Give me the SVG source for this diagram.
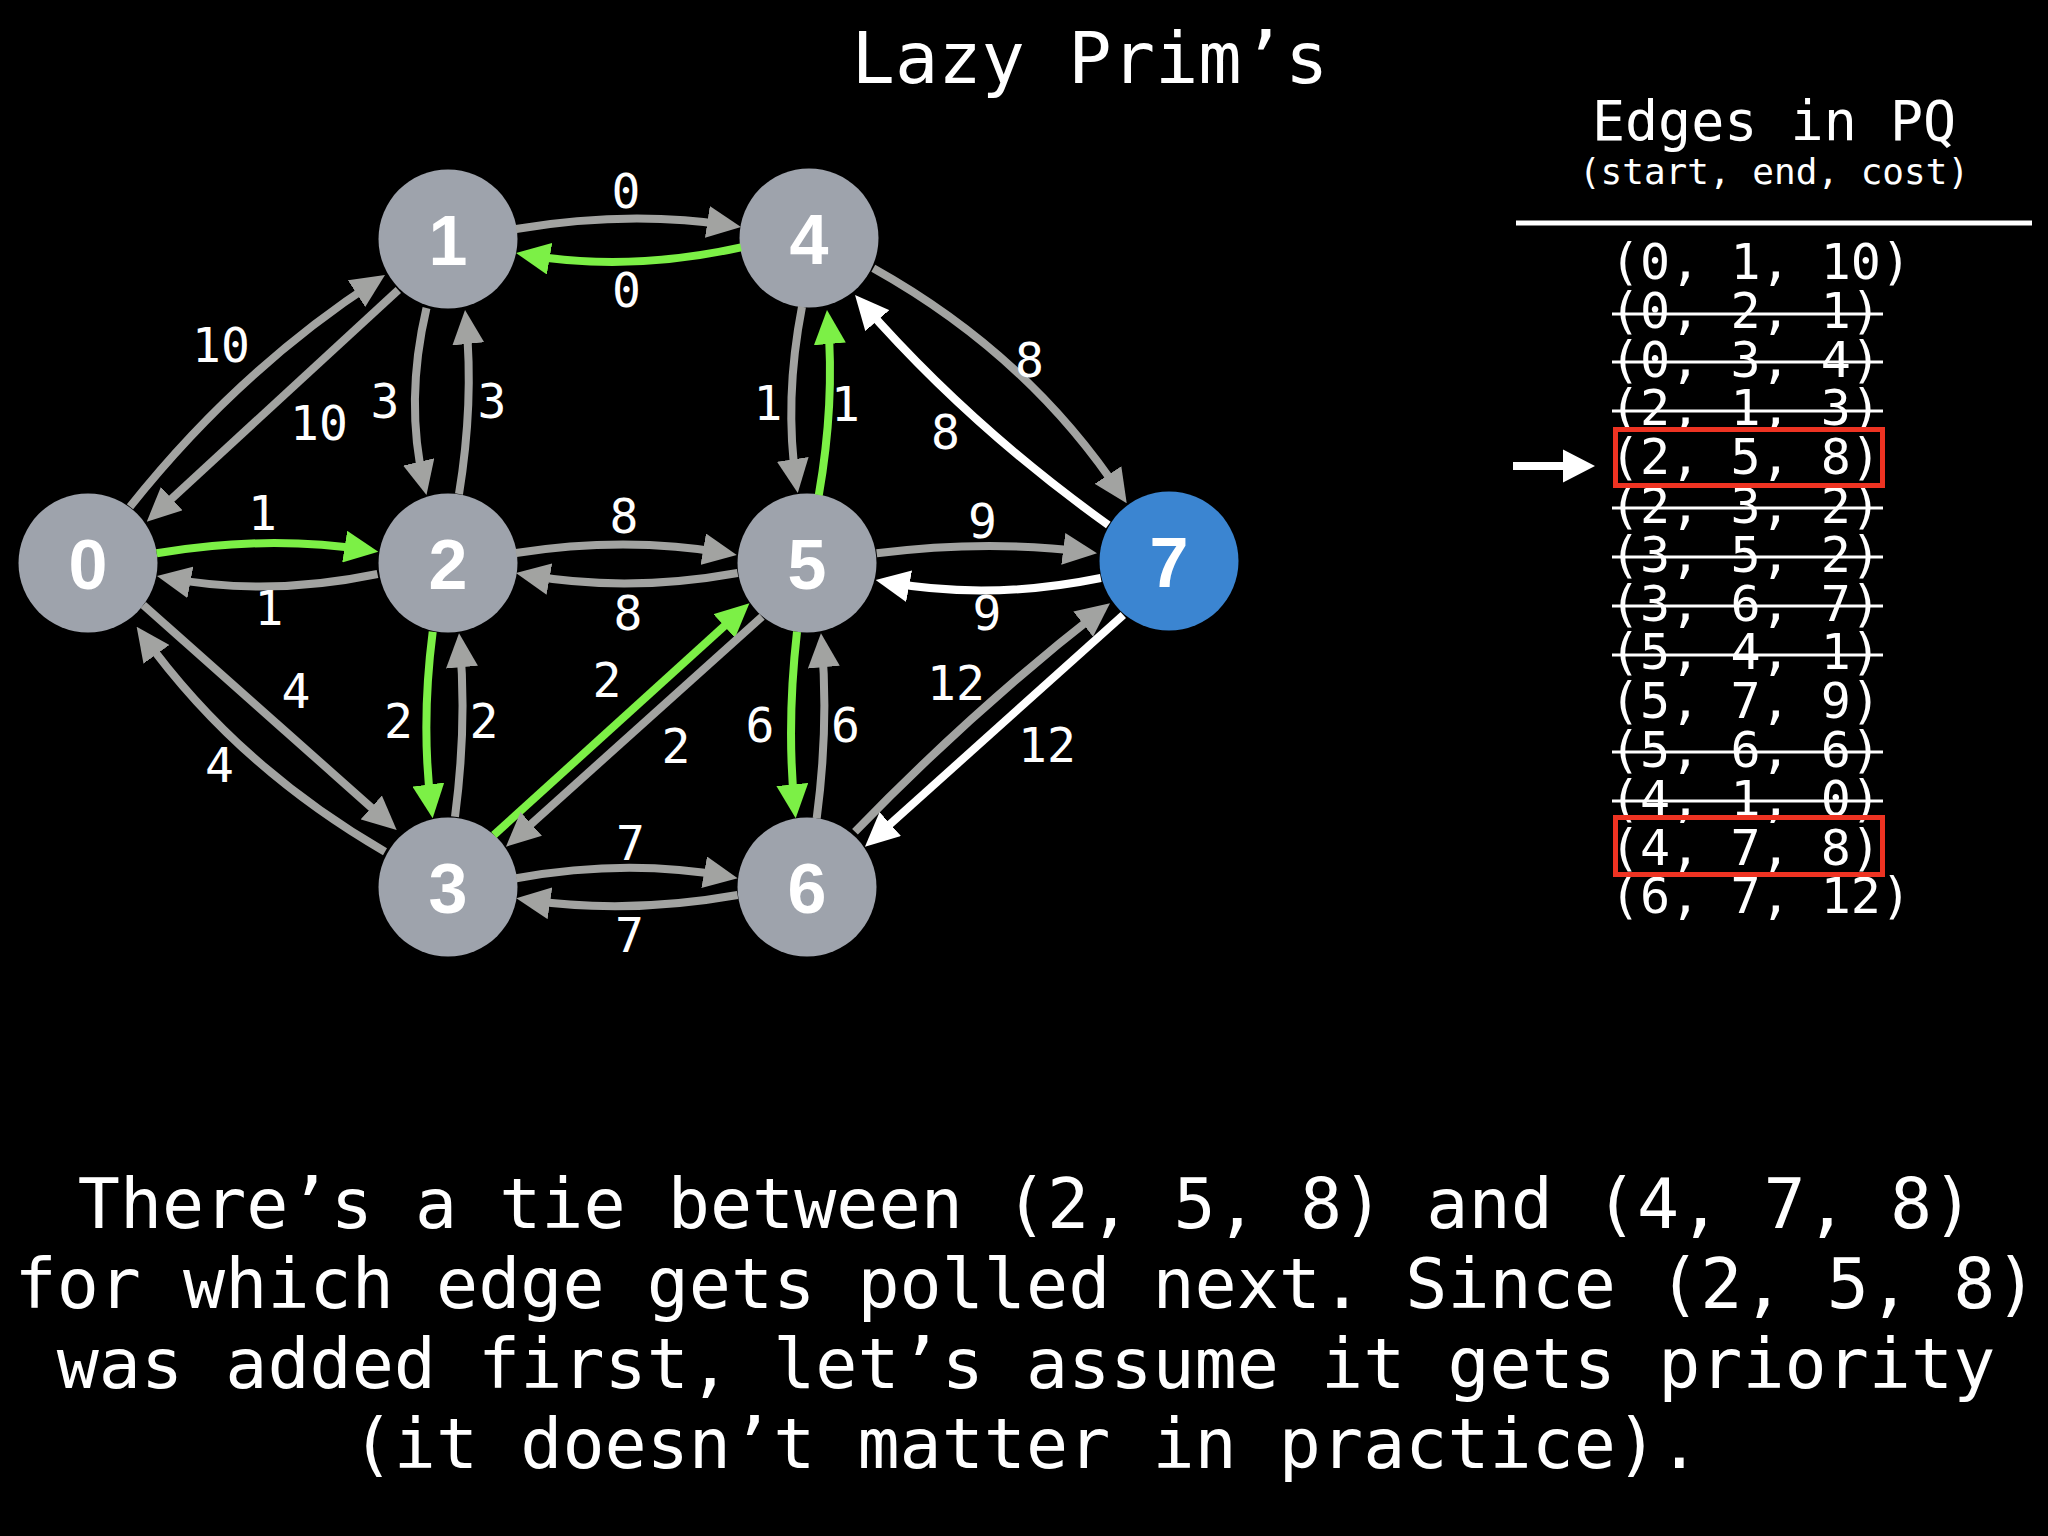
<svg xmlns="http://www.w3.org/2000/svg" width="2048" height="1536" viewBox="0 0 2048 1536">
<defs>
<style>
.bg{fill:#000}
.node{fill:#9EA3AC}
.node.start{fill:#3B85D1}
.nlabel{font-family:"Liberation Sans",Arial,sans-serif;font-weight:bold;font-size:70px;fill:#fff;text-anchor:middle}
.e{fill:none;stroke-width:8;stroke-linecap:butt}
.gray{stroke:#A2A3A1;marker-end:url(#ahGray)}
.green{stroke:#7CF046;marker-end:url(#ahGreen)}
.white{stroke:#FFFFFF;marker-end:url(#ahWhite)}
.elabel{font-family:"DejaVu Sans Mono","Liberation Mono",monospace;font-size:48px;fill:#fff;text-anchor:middle}
.mono{font-family:"DejaVu Sans Mono","Liberation Mono",monospace;fill:#fff}
.strike{stroke:#fff;stroke-width:3}
.hl{fill:none;stroke:#EE3322;stroke-width:5}
</style>
<marker id="ahGray" markerUnits="userSpaceOnUse" markerWidth="34" markerHeight="32" refX="24" refY="16" orient="auto"><path d="M0,0 L34,16 L0,32 Z" fill="#A2A3A1"/></marker>
<marker id="ahGreen" markerUnits="userSpaceOnUse" markerWidth="34" markerHeight="32" refX="24" refY="16" orient="auto"><path d="M0,0 L34,16 L0,32 Z" fill="#7CF046"/></marker>
<marker id="ahWhite" markerUnits="userSpaceOnUse" markerWidth="34" markerHeight="32" refX="24" refY="16" orient="auto"><path d="M0,0 L34,16 L0,32 Z" fill="#FFFFFF"/></marker>
</defs>
<rect class="bg" x="0" y="0" width="2048" height="1536"/>

<text class="mono" x="1090" y="83" font-size="72" text-anchor="middle">Lazy Prim’s</text>

<g id="nodes">
<g id="node-0"><circle class="node" cx="88" cy="563" r="69.5"/><text class="nlabel" x="88" y="589">0</text></g>
<g id="node-1"><circle class="node" cx="448" cy="239" r="69.5"/><text class="nlabel" x="448" y="265">1</text></g>
<g id="node-2"><circle class="node" cx="448" cy="563" r="69.5"/><text class="nlabel" x="448" y="589">2</text></g>
<g id="node-3"><circle class="node" cx="448" cy="887" r="69.5"/><text class="nlabel" x="448" y="913">3</text></g>
<g id="node-4"><circle class="node" cx="809" cy="238" r="69.5"/><text class="nlabel" x="809" y="264">4</text></g>
<g id="node-5"><circle class="node" cx="807" cy="563" r="69.5"/><text class="nlabel" x="807" y="589">5</text></g>
<g id="node-6"><circle class="node" cx="807" cy="887" r="69.5"/><text class="nlabel" x="807" y="913">6</text></g>
<g id="node-7"><circle class="node start" cx="1169" cy="561" r="69.5"/><text class="nlabel" x="1169" y="587">7</text></g>
</g>

<g id="connectors">
<path class="e gray" d="M130,506.7 Q238.7,370.1 376.6,280.5"/>
<path class="e gray" d="M398.3,290 L154.1,514.9"/>
<path class="e green" d="M156.7,553.3 Q267.5,534.5 368.4,550.3"/>
<path class="e gray" d="M377.5,574 Q267.25,597 166.8,577.9"/>
<path class="e gray" d="M426.5,308 Q404.5,401.5 424.2,485.3"/>
<path class="e gray" d="M459,494 Q474,402.4 466,320"/>
<path class="e gray" d="M516,229 Q628.5,210 731.1,225.5"/>
<path class="e green" d="M741,247.3 Q628.5,272.2 525.9,254.7"/>
<path class="e gray" d="M516,553 Q626.4,536 726.9,553.3"/>
<path class="e gray" d="M737.6,573 Q626.8,593 525.8,574.8"/>
<path class="e gray" d="M802,306.7 Q783.9,399.85 796.3,483.1"/>
<path class="e green" d="M818.8,495 Q834.9,403 827.85,320"/>
<path class="e gray" d="M873.3,268.3 Q1028.6,355 1121.2,495"/>
<path class="e white" d="M1108.3,525 Q968.2,424.8 861.6,302.5"/>
<path class="e gray" d="M876.7,553.3 Q986.85,539.3 1087.1,552"/>
<path class="e white" d="M1100.8,578 Q988.25,601 885.5,581.8"/>
<path class="e gray" d="M143.3,605 L389.2,823.4"/>
<path class="e gray" d="M385,851.7 Q236.7,765.9 142.5,634.8"/>
<path class="e green" d="M432.7,631.7 Q420.7,725 431.4,808.4"/>
<path class="e gray" d="M455,816.7 Q467,725 459.9,643.3"/>
<path class="e green" d="M493.9,835 L742,610"/>
<path class="e gray" d="M762,616.7 L513.4,840"/>
<path class="e gray" d="M516.3,878.3 Q627,858.3 727.8,876.5"/>
<path class="e gray" d="M737.6,895 Q627,914.7 526.2,899.8"/>
<path class="e green" d="M797,631.7 Q786.35,725 794.7,808.4"/>
<path class="e gray" d="M816.7,818.3 Q828.85,726 821.8,643.3"/>
<path class="e gray" d="M855,831.7 Q974.5,708.6 1102.1,609.4"/>
<path class="e white" d="M1123.3,615 L872.4,840"/>

<g id="edge-labels">
<text class="elabel" x="221" y="362">10</text>
<text class="elabel" x="319" y="440">10</text>
<text class="elabel" x="262.5" y="530">1</text>
<text class="elabel" x="269" y="625">1</text>
<text class="elabel" x="385" y="418">3</text>
<text class="elabel" x="492" y="418">3</text>
<text class="elabel" x="626" y="208">0</text>
<text class="elabel" x="626.5" y="307">0</text>
<text class="elabel" x="624" y="533">8</text>
<text class="elabel" x="628" y="630">8</text>
<text class="elabel" x="768" y="420">1</text>
<text class="elabel" x="845.5" y="421">1</text>
<text class="elabel" x="1029.5" y="377">8</text>
<text class="elabel" x="945.5" y="449">8</text>
<text class="elabel" x="982.5" y="538">9</text>
<text class="elabel" x="987" y="630">9</text>
<text class="elabel" x="296" y="708">4</text>
<text class="elabel" x="219.5" y="782">4</text>
<text class="elabel" x="398.5" y="738">2</text>
<text class="elabel" x="484" y="738">2</text>
<text class="elabel" x="607" y="697">2</text>
<text class="elabel" x="676" y="763">2</text>
<text class="elabel" x="630.5" y="860">7</text>
<text class="elabel" x="629.5" y="952">7</text>
<text class="elabel" x="760" y="742">6</text>
<text class="elabel" x="845.5" y="742">6</text>
<text class="elabel" x="956" y="700">12</text>
<text class="elabel" x="1047" y="762">12</text>
</g>
</g>

<g id="pq">
<text class="mono" x="1774" y="140" font-size="55" text-anchor="middle">Edges in PQ</text>
<text class="mono" x="1774" y="184" font-size="36" text-anchor="middle">(start, end, cost)</text>
<line x1="1516" y1="223" x2="2032" y2="223" stroke="#fff" stroke-width="5"/>
<g class="mono" font-size="50">
<text x="1610" y="279">(0, 1, 10)</text>
<text x="1610" y="328">(0, 2, 1)</text>
<text x="1610" y="377">(0, 3, 4)</text>
<text x="1610" y="425">(2, 1, 3)</text>
<text x="1610" y="474">(2, 5, 8)</text>
<text x="1610" y="523">(2, 3, 2)</text>
<text x="1610" y="572">(3, 5, 2)</text>
<text x="1610" y="621">(3, 6, 7)</text>
<text x="1610" y="669">(5, 4, 1)</text>
<text x="1610" y="718">(5, 7, 9)</text>
<text x="1610" y="767">(5, 6, 6)</text>
<text x="1610" y="816">(4, 1, 0)</text>
<text x="1610" y="865">(4, 7, 8)</text>
<text x="1610" y="913">(6, 7, 12)</text>
</g>
<g class="strike">
<line x1="1612" y1="314" x2="1883" y2="314"/>
<line x1="1612" y1="362" x2="1883" y2="362"/>
<line x1="1612" y1="411" x2="1883" y2="411"/>
<line x1="1612" y1="508" x2="1883" y2="508"/>
<line x1="1612" y1="557" x2="1883" y2="557"/>
<line x1="1612" y1="606" x2="1883" y2="606"/>
<line x1="1612" y1="655" x2="1883" y2="655"/>
<line x1="1612" y1="752" x2="1883" y2="752"/>
<line x1="1612" y1="801" x2="1883" y2="801"/>
</g>
<rect class="hl" x="1615.5" y="429.5" width="267" height="56"/>
<rect class="hl" x="1615.5" y="817.5" width="267" height="57"/>
<g id="pointer">
<rect x="1513" y="462" width="52" height="8" fill="#fff"/>
<polygon points="1563,449.5 1595,466 1563,482.5" fill="#fff"/>
</g>
</g>

<g class="mono" font-size="70" text-anchor="middle">
<text x="1026" y="1228">There’s a tie between (2, 5, 8) and (4, 7, 8)</text>
<text x="1026" y="1308">for which edge gets polled next. Since (2, 5, 8)</text>
<text x="1026" y="1388">was added first, let’s assume it gets priority</text>
<text x="1026" y="1468">(it doesn’t matter in practice).</text>
</g>
</svg>
